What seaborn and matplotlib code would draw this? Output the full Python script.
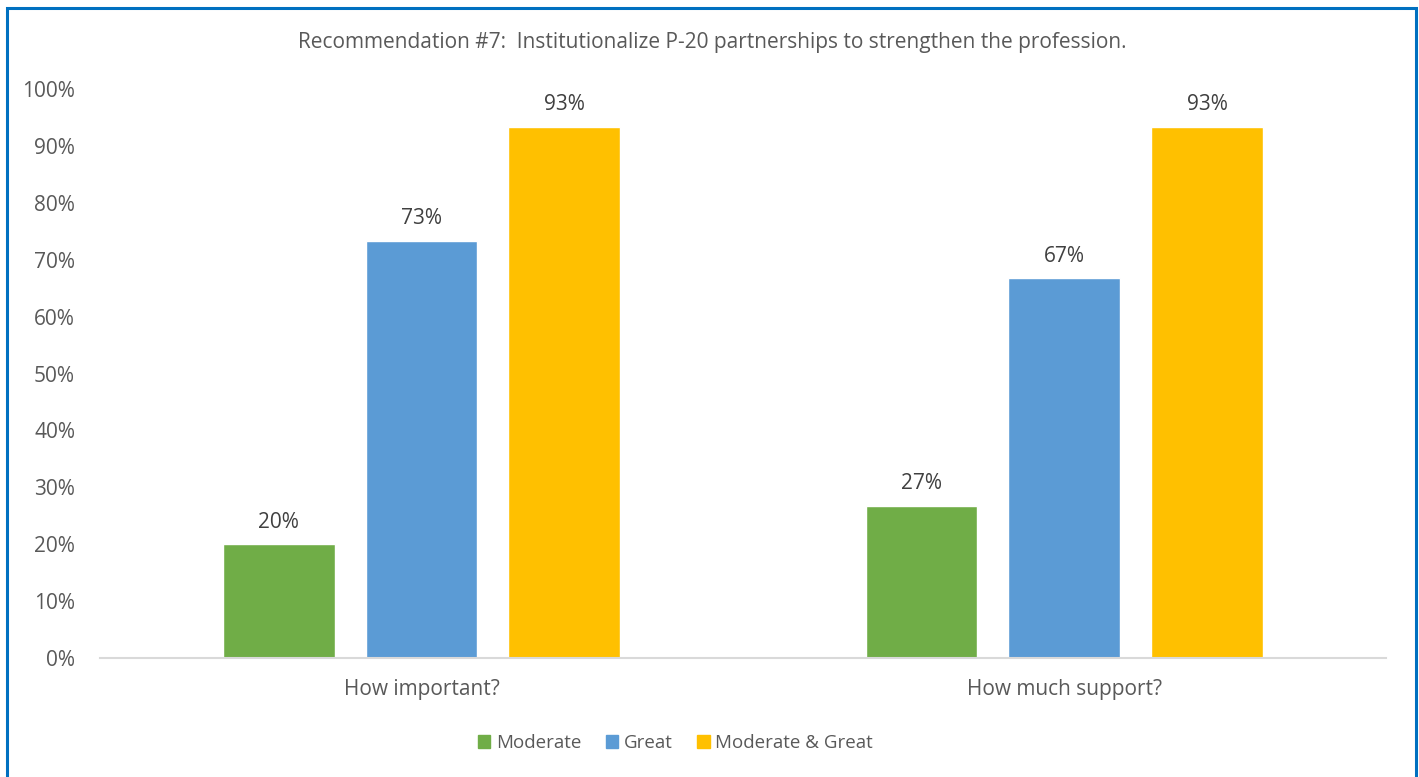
import matplotlib
matplotlib.use("Agg")
import matplotlib.pyplot as plt
import matplotlib.patches as mpatches
import pandas as pd
import seaborn as sns

### chart data
questions = ["How important?", "How much support?"]
levels = ["Moderate", "Great", "Moderate & Great"]
moderate = [20.0, 26.7]
great = [73.3, 66.7]
moderate_great = [93.3, 93.3]
colors = ["#70AD47", "#5B9BD5", "#FFC000"]
title = "Recommendation #7:  Institutionalize P-20 partnerships to strengthen the profession."

rows = []
for i, q in enumerate(questions):
    for lvl, vals in zip(levels, [moderate, great, moderate_great]):
        rows.append({"question": q, "level": lvl, "pct": vals[i]})
df = pd.DataFrame(rows)

sns.set_style("white")
plt.rcParams["font.family"] = ["Open Sans", "DejaVu Sans"]
text_col = "#595959"

fig = plt.figure(figsize=(14.19, 7.77), dpi=100)
ax = fig.add_axes([0.0705, 0.1531, 0.9062, 0.7324])

sns.barplot(data=df, x="question", y="pct", hue="level", hue_order=levels,
            palette=colors, width=0.667, gap=0.217, saturation=1, ax=ax,
            legend=False, errorbar=None)

# value labels above bars
for c in ax.containers:
    for bar in c:
        h = bar.get_height()
        ax.annotate(f"{h:.0f}%", (bar.get_x() + bar.get_width() / 2, h),
                    xytext=(0, 16), textcoords="offset points",
                    ha="center", va="center", fontsize=15, color="#404040")

ax.set_ylim(0, 100)
ax.set_yticks(range(0, 101, 10))
ax.set_yticklabels([f"{t}%" for t in range(0, 101, 10)])
ax.set_xlim(-0.5, 1.5)
ax.tick_params(axis="both", length=0, labelsize=15, labelcolor=text_col)
ax.tick_params(axis="y", pad=18)
ax.tick_params(axis="x", pad=15)
ax.set_xlabel("")
ax.set_ylabel("")
for s in ["top", "right", "left"]:
    ax.spines[s].set_visible(False)
ax.spines["bottom"].set_color("#D9D9D9")
ax.spines["bottom"].set_linewidth(1.5)

fig.text(0.502, 0.9447, title, ha="center", va="center", fontsize=15, color=text_col)

handles = [mpatches.Patch(color=c, label=l) for c, l in zip(colors, levels)]
fig.legend(handles=handles, loc="center", bbox_to_anchor=(0.476, 0.044), ncol=3,
           frameon=False, fontsize=13.5, labelcolor=text_col, handlelength=0.67,
           handleheight=0.67, handletextpad=0.3, columnspacing=1.3)

# blue frame around the chart
frame = mpatches.Rectangle((6.5 / 1419, -0.05), (1416 - 6.5) / 1419, 1.05 - 8 / 777,
                           transform=fig.transFigure, fill=False,
                           edgecolor="#0070C0", linewidth=2.2)
fig.patches.append(frame)

fig.savefig("out.png", dpi=100)
